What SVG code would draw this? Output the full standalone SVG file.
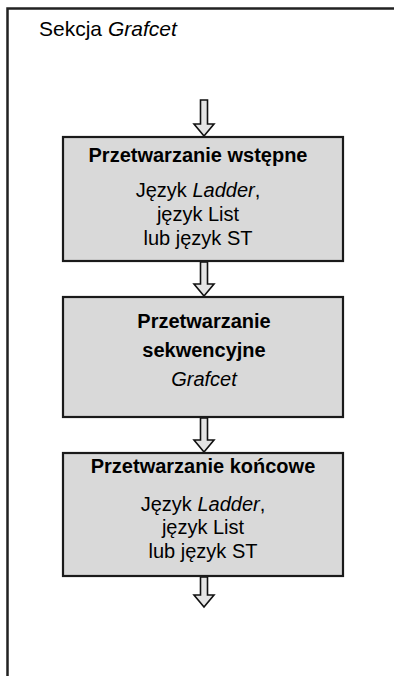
<svg xmlns="http://www.w3.org/2000/svg" width="394" height="676" viewBox="0 0 394 676">
<style>
.box{fill:#d9d9d9;stroke:#1a1a1a;stroke-width:2.2}
.t{font-family:"Liberation Sans",Arial,sans-serif;font-size:20px;fill:#000;text-anchor:middle}
.b{font-weight:bold}
.i{font-style:italic}
.arr{fill:#e4e4e4;stroke:#111;stroke-width:1.6;stroke-linejoin:miter}
</style>
<rect width="394" height="676" fill="#fff"/>
<g id="frame">
<rect x="7.5" y="8.5" width="400" height="700" fill="none" stroke="#222" stroke-width="2.5"/>
<text x="39" y="36" font-family="'Liberation Sans',Arial,sans-serif" font-size="21">Sekcja <tspan font-style="italic">Grafcet</tspan></text>
</g>
<g id="connectors">
<polygon class="arr" points="200.5,100 207.5,100 207.5,124 214,124 204,136 194,124 200.5,124"/>
<polygon class="arr" points="200.5,262 207.5,262 207.5,284 214,284 204,296 194,284 200.5,284"/>
<polygon class="arr" points="200.5,418 207.5,418 207.5,440 214,440 204,452 194,440 200.5,440"/>
<polygon class="arr" points="200.5,577 207.5,577 207.5,595 214,595 204,607 194,595 200.5,595"/>
</g>
<g id="pre">
<rect class="box" x="63" y="137" width="280" height="124"/>
<text class="t b" x="198" y="162">Przetwarzanie wstępne</text>
<text class="t" x="198" y="197">Język <tspan class="i">Ladder</tspan>,</text>
<text class="t" x="198" y="221">język List</text>
<text class="t" x="198" y="245">lub język ST</text>
</g>
<g id="seq">
<rect class="box" x="63" y="297" width="280" height="120"/>
<text class="t b" x="204" y="328">Przetwarzanie</text>
<text class="t b" x="204" y="357">sekwencyjne</text>
<text class="t i" x="204" y="386">Grafcet</text>
</g>
<g id="post">
<rect class="box" x="63" y="453" width="280" height="123"/>
<text class="t b" x="203" y="473">Przetwarzanie końcowe</text>
<text class="t" x="203" y="511">Język <tspan class="i">Ladder</tspan>,</text>
<text class="t" x="203" y="534">język List</text>
<text class="t" x="203" y="558">lub język ST</text>
</g>
</svg>
